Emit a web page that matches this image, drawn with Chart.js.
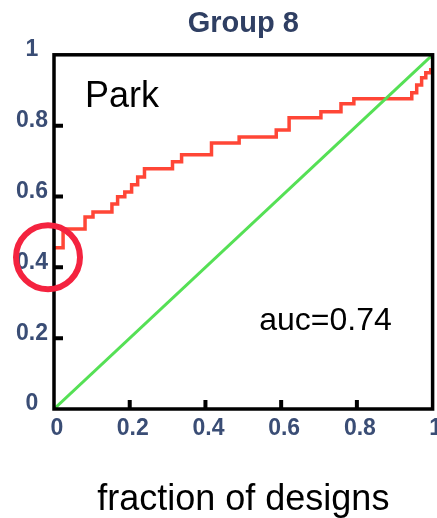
<!DOCTYPE html>
<html>
<head>
<meta charset="utf-8">
<title>Group 8</title>
<script src="https://cdn.jsdelivr.net/npm/chart.js@4"></script>
<style>
    html, body { margin: 0; padding: 0; background: #ffffff; }
    #wrap { width: 437px; height: 518px; }
</style>
</head>
<body>
<div id="wrap"><canvas id="roc_chart" width="437" height="518"></canvas></div>
<script>
// values
let parkX = [0, 0.024, 0.082, 0.103, 0.153, 0.168, 0.187, 0.205, 0.221, 0.239, 0.313, 0.337, 0.416, 0.489, 0.587, 0.621, 0.705, 0.758, 0.792, 0.945, 0.958, 0.971, 0.982, 0.995, 1];
let parkY = [0.455, 0.508, 0.542, 0.556, 0.579, 0.599, 0.613, 0.633, 0.655, 0.678, 0.698, 0.718, 0.751, 0.768, 0.788, 0.822, 0.839, 0.862, 0.876, 0.893, 0.915, 0.935, 0.949, 0.958, 0.958];
let chanceX = [0, 1];
let chanceY = [0, 1];
let xTickLabels = ["0", "0.2", "0.4", "0.6", "0.8", "1"];
let yTickLabels = ["0", "0.2", "0.4", "0.6", "0.8", "1"];
let chartTitle = "Group 8";
let xAxisTitle = "fraction of designs";
let seriesName = "Park";
let aucText = "auc=0.74";

let tickColor = "#3a4d75";
let tickFont = { family: "'Liberation Sans', Arial, sans-serif", size: 23, weight: "bold" };

let toPoints = (xs, ys) => xs.map((x, i) => ({ x: x, y: ys[i] }));

// frame, inward ticks, labels inside the plot and the red circle
let framePlugin = {
    id: "frame",
    afterDatasetsDraw(chart) {
        let ctx = chart.ctx;
        let area = chart.chartArea;
        let xScale = chart.scales.x;
        let yScale = chart.scales.y;
        ctx.save();
        ctx.strokeStyle = "#000000";
        ctx.lineWidth = 4;
        ctx.beginPath();
        for (let i = 1; i < xTickLabels.length - 1; i++) {
            let px = xScale.getPixelForValue(i * 0.2);
            ctx.moveTo(px, area.bottom);
            ctx.lineTo(px, area.bottom - 9);
        }
        for (let i = 1; i < yTickLabels.length - 1; i++) {
            let py = yScale.getPixelForValue(i * 0.2);
            ctx.moveTo(area.left, py);
            ctx.lineTo(area.left + 9, py);
        }
        ctx.stroke();
        ctx.lineWidth = 3.5;
        ctx.strokeRect(area.left, area.top, area.right - area.left, area.bottom - area.top);

        ctx.fillStyle = "#000000";
        ctx.textAlign = "left";
        ctx.textBaseline = "alphabetic";
        ctx.font = "36px 'Liberation Sans', Arial, sans-serif";
        ctx.fillText(seriesName, xScale.getPixelForValue(0.082), yScale.getPixelForValue(0.853));
        ctx.font = "32px 'Liberation Sans', Arial, sans-serif";
        ctx.fillText(aucText, xScale.getPixelForValue(0.542), yScale.getPixelForValue(0.223));

        ctx.strokeStyle = "#f4233f";
        ctx.lineWidth = 6;
        ctx.beginPath();
        ctx.arc(area.left - 6, yScale.getPixelForValue(0.4) - 10, 32, 0, Math.PI * 2);
        ctx.stroke();
        ctx.restore();
    }
};

new Chart(document.getElementById("roc_chart"), {
    type: "scatter",
    data: {
        datasets: [
            {
                label: "chance",
                data: toPoints(chanceX, chanceY),
                showLine: true,
                borderColor: "#55e055",
                borderWidth: 3,
                pointRadius: 0
            },
            {
                label: seriesName,
                data: toPoints(parkX, parkY),
                showLine: true,
                stepped: "before",
                borderColor: "#ff4636",
                borderWidth: 3.5,
                pointRadius: 0
            }
        ]
    },
    options: {
        responsive: false,
        devicePixelRatio: 1,
        animation: false,
        layout: { padding: { left: 0, right: 3, top: 0, bottom: 0 } },
        plugins: {
            legend: { display: false },
            tooltip: { enabled: false },
            title: {
                display: true,
                fullSize: false,
                text: chartTitle,
                color: "#2f3f63",
                font: { family: "'Liberation Sans', Arial, sans-serif", size: 29, weight: "bold", lineHeight: 1.2 },
                padding: { top: 7, bottom: 13 }
            }
        },
        scales: {
            x: {
                type: "linear",
                min: 0,
                max: 1,
                grid: { display: false },
                border: { display: false },
                ticks: {
                    stepSize: 0.2,
                    color: tickColor,
                    font: tickFont,
                    padding: -2,
                    labelOffset: 3,
                    maxRotation: 0,
                    autoSkip: false,
                    callback: (v, i) => xTickLabels[i]
                },
                title: {
                    display: true,
                    text: xAxisTitle,
                    color: "#000000",
                    font: { family: "'Liberation Sans', Arial, sans-serif", size: 36, lineHeight: 1.0 },
                    padding: { top: 0, bottom: 0 }
                },
                afterFit: (scale) => { scale.height = 109; }
            },
            y: {
                type: "linear",
                min: 0,
                max: 1,
                grid: { display: false },
                border: { display: false },
                ticks: {
                    stepSize: 0.2,
                    color: tickColor,
                    font: tickFont,
                    padding: -2,
                    crossAlign: "center",
                    labelOffset: -5,
                    autoSkip: false,
                    callback: (v, i) => yTickLabels[i]
                },
                afterFit: (scale) => { scale.width = 54; }
            }
        }
    },
    plugins: [framePlugin]
});
</script>
</body>
</html>
